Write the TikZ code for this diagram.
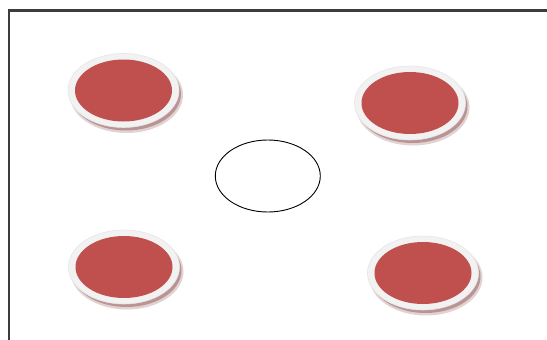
\documentclass[tikz,border=0pt]{standalone}
\usetikzlibrary{shapes.geometric}
\definecolor{redfill}{HTML}{C0504D}
\definecolor{ringfill}{HTML}{F2F2F2}
\definecolor{ringedge}{HTML}{E6E6E6}
\definecolor{shadowc}{HTML}{A06C6C}
\definecolor{framec}{HTML}{3C3C3C}
\tikzset{
  disc/.style={ellipse, inner sep=0pt, minimum width=97pt, minimum height=62pt, fill=redfill},
  ring/.style={ellipse, inner sep=0pt, minimum width=111pt, minimum height=74pt, fill=ringfill, draw=ringedge, line width=0.6pt},
  shade1/.style={ellipse, inner sep=0pt, minimum width=113pt, minimum height=76pt, fill=shadowc, opacity=0.3},
  shade2/.style={ellipse, inner sep=0pt, minimum width=110pt, minimum height=73pt, fill=shadowc, opacity=0.6},
  hole/.style={ellipse, inner sep=0pt, minimum width=105pt, minimum height=72pt, draw=black, line width=0.9pt, fill=white},
  frame/.style={draw=framec, line width=2.4pt}
}
\begin{document}
\begin{tikzpicture}[x=1pt,y=-1pt]
\useasboundingbox (0,0) rectangle (547,340);
\fill[white] (0,0) rectangle (547,340);
\draw[frame] (9,345) -- (9,10.5) -- (552,10.5);
% shadows
\foreach \n/\cx/\cy in {a/123.5/90.5, b/410/103, c/124/267, d/423/273}{
  \node[shade1] at (\cx+3,\cy+4.5) {};
  \node[shade2] at (\cx+2.5,\cy+3.5) {};
  \node[ring] (\n r) at (\cx,\cy) {};
  \node[disc] (\n) at (\cx,\cy) {};
}
\node[hole] (m) at (267.8,176) {};
\end{tikzpicture}
\end{document}
